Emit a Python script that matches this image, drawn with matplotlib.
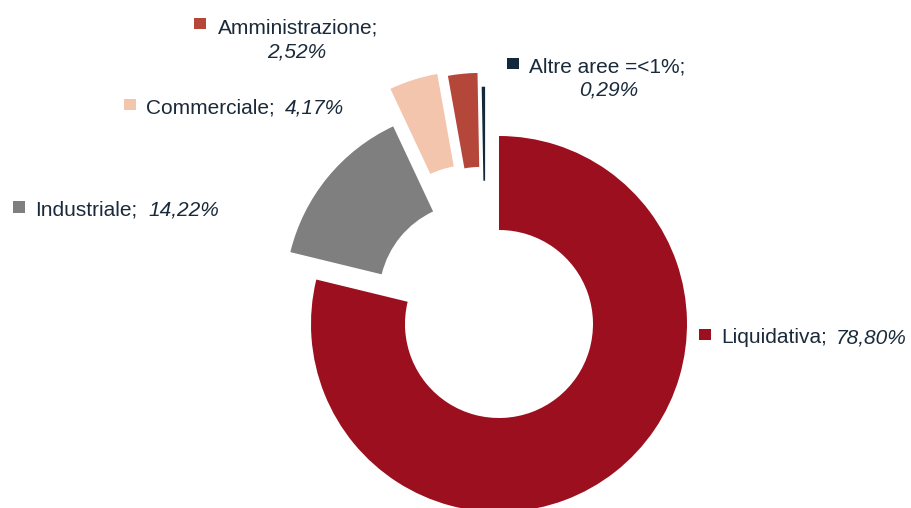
import matplotlib.pyplot as plt
from matplotlib.patches import Rectangle

plt.rcParams['font.family'] = ['Liberation Sans', 'DejaVu Sans']

# dati
categorie = ['Liquidativa', 'Industriale', 'Commerciale', 'Amministrazione', 'Altre aree =<1%']
valori = [78.80, 14.22, 4.17, 2.52, 0.29]
etichette_pct = ['78,80%', '14,22%', '4,17%', '2,52%', '0,29%']
colori = ['#9C0F1E', '#7F7F7F', '#F3C5AD', '#B5463A', '#13283A']
esplodi = [22, 16, 50, 46, 32]

W, H = 911, 508
txt_col = '#1B2A3A'
fs = 15

fig = plt.figure(figsize=(W / 100, H / 100), dpi=100)
ax = fig.add_axes([0, 0, 1, 1])

ax.pie(valori, colors=colori, explode=esplodi, startangle=90, counterclock=False,
       radius=188, center=(485.4, H - 306.7),
       wedgeprops=dict(width=94, linewidth=0))
ax.set_xlim(0, W)
ax.set_ylim(0, H)
ax.set_aspect('equal')
ax.axis('off')


def quadrato(x, y, col):
    # y in coordinate immagine (dall'alto)
    fig.add_artist(Rectangle((x / W, 1 - (y + 11.5) / H), 12 / W, 11.5 / H,
                             transform=fig.transFigure, color=col, lw=0))


def testo(x, y, s, italic=False):
    fig.text(x / W, 1 - y / H, s, fontsize=fs, color=txt_col, va='baseline', ha='left',
             style='italic' if italic else 'normal')


# Liquidativa
quadrato(698.5, 328.5, colori[0])
testo(721, 343, categorie[0] + ';')
testo(836, 343, etichette_pct[0], italic=True)

# Industriale
quadrato(12.5, 201.5, colori[1])
testo(35, 216, categorie[1] + ';')
testo(148, 216, etichette_pct[1], italic=True)

# Commerciale
quadrato(123.5, 98.5, colori[2])
testo(146, 113, categorie[2] + ';')
testo(285, 113, etichette_pct[2], italic=True)

# Amministrazione
quadrato(193.5, 17.5, colori[3])
testo(218, 33, categorie[3] + ';')
fig.text(297 / W, 1 - 57.5 / H, etichette_pct[3], fontsize=fs, color=txt_col,
         va='baseline', ha='center', style='italic')

# Altre aree
quadrato(506.5, 57.5, colori[4])
testo(529, 72.5, categorie[4] + ';')
fig.text(609 / W, 1 - 95.5 / H, etichette_pct[4], fontsize=fs, color=txt_col,
         va='baseline', ha='center', style='italic')

plt.savefig('out.png', dpi=100)
